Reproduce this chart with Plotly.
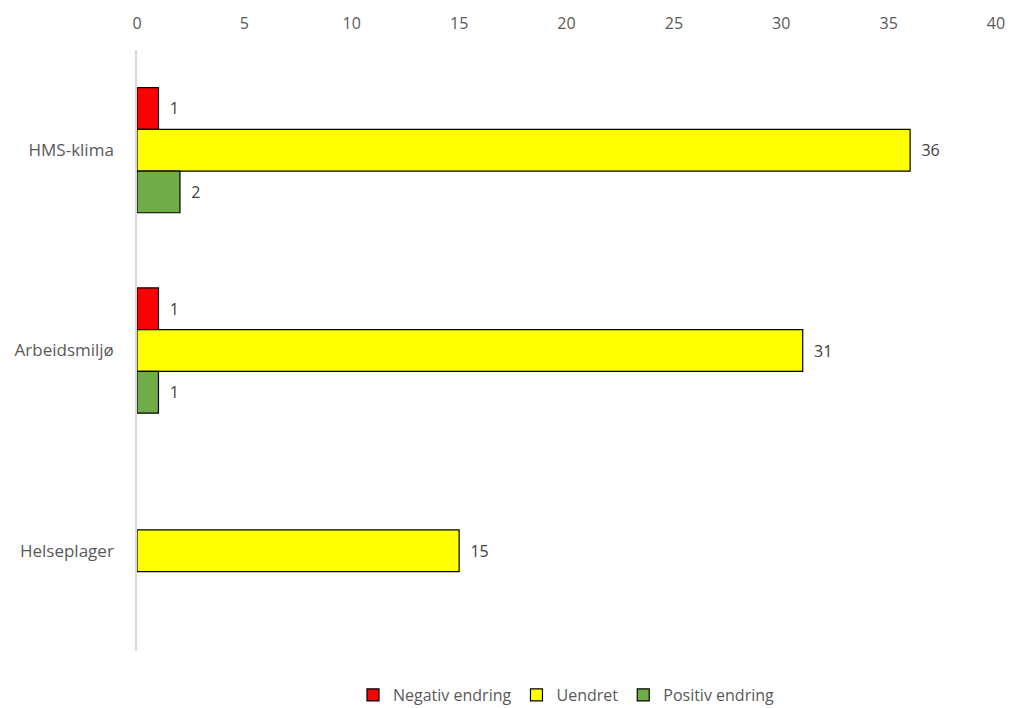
import plotly.graph_objects as go

categories = ["HMS-klima", "Arbeidsmiljø", "Helseplager"]
negativ = [1, 1, None]
uendret = [36, 31, 15]
positiv = [2, 1, None]
x_ticks = [0, 5, 10, 15, 20, 25, 30, 35, 40]

series = [
    ("Negativ endring", negativ, "#FF0000"),
    ("Uendret", uendret, "#FFFF00"),
    ("Positiv endring", positiv, "#70AD47"),
]

FONT = "Open Sans, Liberation Sans, sans-serif"
fig = go.Figure()
for name, vals, color in series:
    fig.add_trace(go.Bar(
        name=name, y=categories, x=vals, orientation="h",
        marker=dict(color=color, line=dict(color="#000000", width=1.2)),
        text=[("" if v is None else "  " + str(v)) for v in vals],
        textposition="outside", cliponaxis=False,
        textfont=dict(size=16, color="#404040", family=FONT),
    ))

fig.update_layout(
    barmode="group", bargap=0.375, bargroupgap=0,
    width=1011, height=708,
    margin=dict(l=137, r=15, t=50, b=57, autoexpand=False),
    plot_bgcolor="white", paper_bgcolor="white",
    font=dict(family=FONT, size=16, color="#595959"),
    xaxis=dict(side="top", range=[0, 40], tickvals=x_ticks, showgrid=False,
               zeroline=False, showline=False, ticks="", automargin=False,
               ticklabelstandoff=17, tickfont=dict(size=16, color="#595959")),
    yaxis=dict(autorange="reversed", showgrid=False, showline=True, linecolor="#D9D9D9",
               linewidth=1.5, ticks="", automargin=False, ticklabelstandoff=18,
               tickfont=dict(size=17, color="#595959")),
    legend=dict(orientation="h", x=0.5, xanchor="center", y=-0.045, yanchor="top",
                font=dict(size=16, color="#595959"), traceorder="normal", itemwidth=30),
    showlegend=True,
)

fig.write_html("out.html", config={"displayModeBar": False},
               post_script="document.body.style.margin='0';document.body.style.overflow='hidden';")
